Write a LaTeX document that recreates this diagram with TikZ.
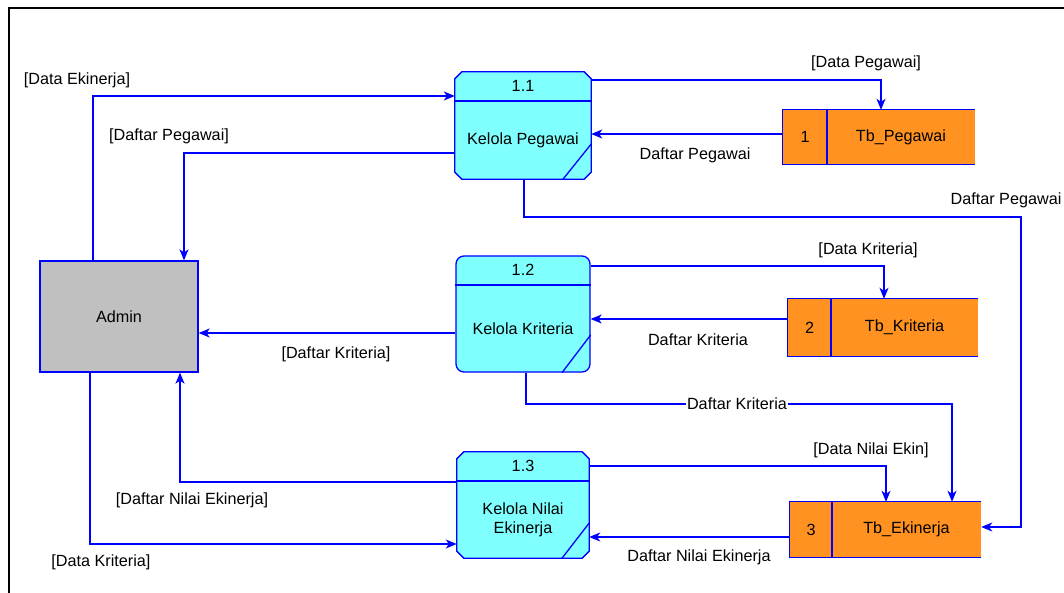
\documentclass[tikz,border=0pt]{standalone}
\usepackage{fontspec}
\setmainfont{Liberation Sans}
\usetikzlibrary{arrows.meta}

\definecolor{flowblue}{RGB}{0,0,255}
\definecolor{proccyan}{RGB}{128,255,255}
\definecolor{storeorange}{RGB}{255,146,32}
\definecolor{admingray}{RGB}{192,192,192}

\begin{document}
\begin{tikzpicture}[x=1pt,y=-1pt,font=\fontsize{16.2}{19}\selectfont,
        entity/.style={draw=flowblue,line width=1.3pt,fill=admingray,minimum width=158pt,minimum height=111pt,inner sep=0pt},
        procbox/.style={rectangle,inner sep=0pt},
        procr/.style={rectangle,rounded corners=8pt,draw=flowblue,line width=1.3pt,fill=proccyan,inner sep=0pt},
        store/.style={fill=storeorange,inner sep=0pt},
        pline/.style={flowblue,line width=1.3pt},
        flow/.style={pline,-{Stealth[length=11pt,width=9pt,inset=3pt]}},
        lbl/.style={inner sep=1pt}]
        \useasboundingbox (0,0) rectangle (1064,593);
        \draw[line width=1.6pt] (9,593) -- (9,8) -- (1064,8);

        \node[entity] (admin) at (119,316.5) {Admin};
        \node[procbox,minimum width=136pt,minimum height=107pt] (p11) at (523,125.5) {};
        \node[procr,minimum width=134pt,minimum height=116pt] (p12) at (523,314) {};
        \node[procbox,minimum width=132pt,minimum height=106pt] (p13) at (523,505) {};
        \node[store,minimum width=192pt,minimum height=54pt] (s1) at (879,137) {};
        \node[store,minimum width=190pt,minimum height=57pt] (s2) at (883,327.5) {};
        \node[store,minimum width=191pt,minimum height=55pt] (s3) at (885.5,529.5) {};

        \draw[pline,fill=proccyan] ([xshift=7pt]p11.north west) -- ([xshift=-7pt]p11.north east)
            -- ([yshift=-7pt]p11.north east) -- ([yshift=7pt]p11.south east) -- ([xshift=-7pt]p11.south east)
            -- ([xshift=7pt]p11.south west) -- ([yshift=7pt]p11.south west) -- ([yshift=-7pt]p11.north west) -- cycle;
        \draw[pline] (p11.west |- 0,101) -- (p11.east |- 0,101);
        \draw[pline] (p11.south -| 563,0) -- (p11.east |- 0,144);
        \node at (p11.north |- 0,86) {1.1};
        \node at (p11 |- 0,140) {Kelola Pegawai};
        \draw[pline] (p12.west |- 0,285) -- (p12.east |- 0,285);
        \draw[pline] (p12.south -| 562,0) -- (p12.east |- 0,335);
        \node at (p12.north |- 0,270) {1.2};
        \node at (p12 |- 0,329) {Kelola Kriteria};
        \draw[pline,fill=proccyan] ([xshift=7pt]p13.north west) -- ([xshift=-7pt]p13.north east)
            -- ([yshift=-7pt]p13.north east) -- ([yshift=7pt]p13.south east) -- ([xshift=-7pt]p13.south east)
            -- ([xshift=7pt]p13.south west) -- ([yshift=7pt]p13.south west) -- ([yshift=-7pt]p13.north west) -- cycle;
        \draw[pline] (p13.west |- 0,481) -- (p13.east |- 0,481);
        \draw[pline] (p13.south -| 562,0) -- (p13.east |- 0,523);
        \node at (p13.north |- 0,466) {1.3};
        \node[align=center] at (p13 |- 0,520) {Kelola Nilai\\Ekinerja};

        \draw[pline] (s1.north east) -- (s1.north west) -- (s1.south west) -- (s1.south east);
        \draw[pline] (s1.north -| 827,0) -- (s1.south -| 827,0);
        \node at (805,137) {1};
        \node at (901,137) {Tb\_Pegawai};
        \draw[pline] (s2.north east) -- (s2.north west) -- (s2.south west) -- (s2.south east);
        \draw[pline] (s2.north -| 831,0) -- (s2.south -| 831,0);
        \node at (809.5,327.5) {2};
        \node at (904.5,327.5) {Tb\_Kriteria};
        \draw[pline] (s3.north east) -- (s3.north west) -- (s3.south west) -- (s3.south east);
        \draw[pline] (s3.north -| 832,0) -- (s3.south -| 832,0);
        \node at (811,529.5) {3};
        \node at (906.5,529.5) {Tb\_Ekinerja};

        \draw[flow] (admin.north -| 93,0) |- (p11.west |- 0,96);
        \node[lbl] at (77,80) {[Data Ekinerja]};
        \draw[flow] (p11.west |- 0,153) -| (admin.north -| 184,0);
        \node[lbl] at (169,136) {[Daftar Pegawai]};
        \draw[flow] (p11.east |- 0,80) -| (s1.north -| 881,0);
        \node[lbl] at (866,63) {[Data Pegawai]};
        \draw[flow] (s1.west |- 0,134) -- (p11.east |- 0,134);
        \node[lbl] at (695,155) {Daftar Pegawai};
        \draw[flow] (p11.south -| 524,0) |- (1021,217) |- (s3.east |- 0,527);
        \node[lbl] at (1006,200) {Daftar Pegawai};

        \draw[flow] (p12.east |- 0,266) -| (s2.north -| 884,0);
        \node[lbl] at (868,250) {[Data Kriteria]};
        \draw[flow] (s2.west |- 0,319) -- (p12.east |- 0,319);
        \node[lbl] at (698,340) {Daftar Kriteria};
        \draw[flow] (p12.west |- 0,333) -- (admin.east |- 0,333);
        \node[lbl] at (336,354) {[Daftar Kriteria]};
        \draw[flow] (p12.south -| 526,0) |- (952,404) -- (s3.north -| 952,0);
        \node[lbl,fill=white] at (737,404) {Daftar Kriteria};

        \draw[flow] (p13.east |- 0,466) -| (s3.north -| 886,0);
        \node[lbl] at (871,450) {[Data Nilai Ekin]};
        \draw[flow] (s3.west |- 0,537) -- (p13.east |- 0,537);
        \node[lbl] at (699,557) {Daftar Nilai Ekinerja};
        \draw[flow] (p13.west |- 0,482) -| (admin.south -| 180,0);
        \node[lbl] at (192,500) {[Daftar Nilai Ekinerja]};
        \draw[flow] (admin.south -| 90,0) |- (p13.west |- 0,544);
        \node[lbl] at (101,562) {[Data Kriteria]};
      \end{tikzpicture}
\end{document}
